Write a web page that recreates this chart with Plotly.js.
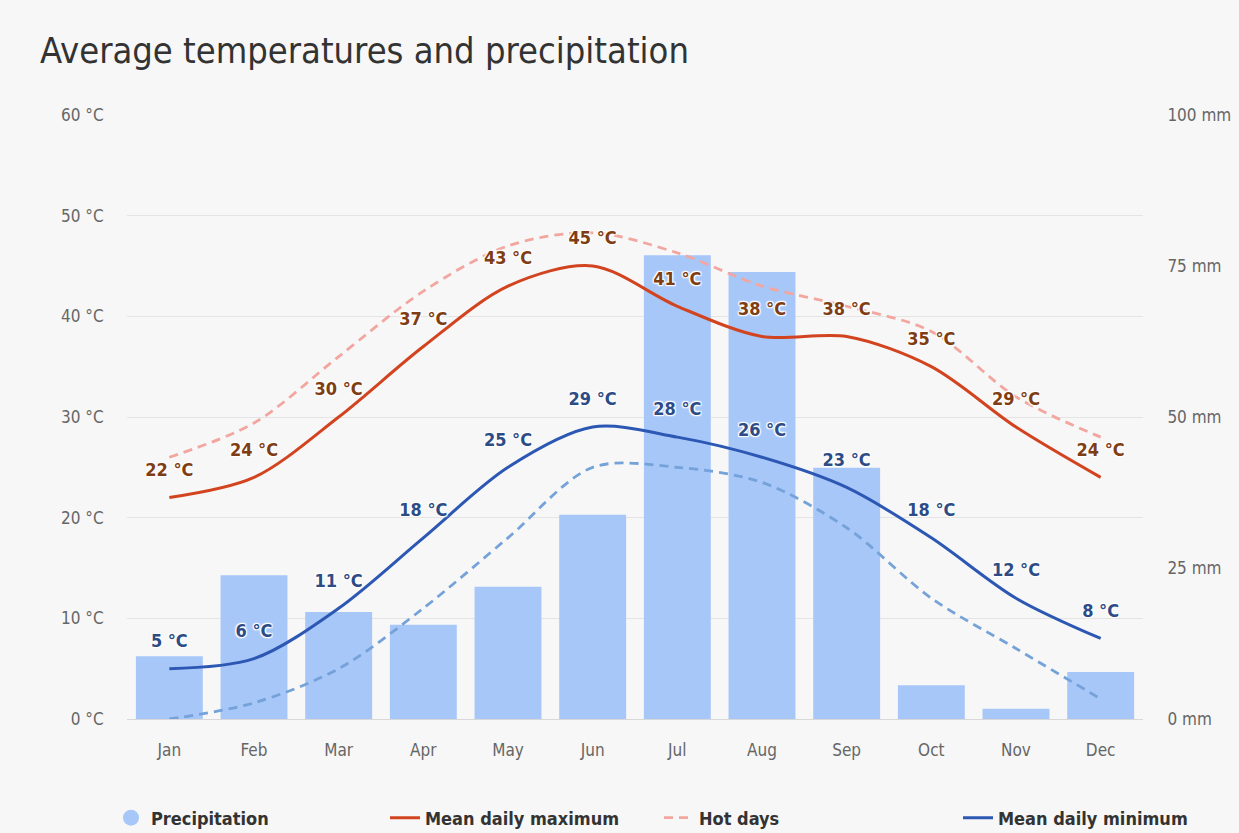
<!DOCTYPE html>
<html><head><meta charset="utf-8">
<script src="https://cdn.plot.ly/plotly-3.0.1.min.js"></script>
<style>html,body{margin:0;padding:0;background:#f7f7f7}</style>
</head><body><div id="chart" style="width:1239px;height:833px"></div>
<script>
const months = ['Jan','Feb','Mar','Apr','May','Jun','Jul','Aug','Sep','Oct','Nov','Dec'];
const precipitation = [10.4, 23.8, 17.7, 15.6, 21.9, 33.8, 76.8, 74.0, 41.6, 5.6, 1.7, 7.8];
const meanMax = [22, 24, 30, 37, 43, 45, 41, 38, 38, 35, 29, 24];
const meanMin = [5, 6, 11, 18, 25, 29, 28, 26, 23, 18, 12, 8];
const hotDays = [26, 29.4, 36, 42.5, 47, 48.3, 46.3, 43, 41, 38.5, 32, 28];
const coldNights = [0, 1.6, 5, 11, 18, 25, 25, 23.5, 19, 12, 7, 2];
const tempTicks = [0, 10, 20, 30, 40, 50, 60];
const precTicks = [0, 25, 50, 75, 100];

const condFont = 'DejaVu Sans Condensed, sans-serif';
const halo = '1px 1px 1px #fff, -1px -1px 1px #fff, 1px -1px 1px #fff, -1px 1px 1px #fff, 0 0 3px #fff';

const traces = [
  { type: 'bar', name: 'Precipitation', x: months, y: precipitation, yaxis: 'y',
    marker: { color: '#a7c7f9' }, showlegend: false, hoverinfo: 'y' },
  { type: 'scatter', mode: 'markers', name: 'Precipitation', x: [null], y: [null], yaxis: 'y2',
    marker: { color: '#a7c7f9', size: 18, symbol: 'circle' }, legend: 'legend' },
  { type: 'scatter', mode: 'lines', name: 'Hot days', x: months, y: hotDays, yaxis: 'y2',
    line: { color: '#f3a69f', width: 2.8, dash: '9px,6px', shape: 'spline', smoothing: 0.9 }, legend: 'legend3' },
  { type: 'scatter', mode: 'lines', name: 'Cold nights', x: months, y: coldNights, yaxis: 'y2',
    line: { color: '#74a2d9', width: 2.8, dash: '9px,6px', shape: 'spline', smoothing: 0.9 }, showlegend: false },
  { type: 'scatter', mode: 'lines+markers+text', name: 'Mean daily maximum', x: months, y: meanMax, yaxis: 'y2',
    text: meanMax.map(v => v + ' °C'), textposition: 'top center',
    marker: { size: 26, color: 'rgba(0,0,0,0)', line: { width: 0 } },
    textfont: { family: condFont, size: 18, color: '#7f3d14', weight: 'bold', shadow: halo },
    line: { color: '#d2441f', width: 3, shape: 'spline', smoothing: 0.9 }, legend: 'legend2' },
  { type: 'scatter', mode: 'lines+markers+text', name: 'Mean daily minimum', x: months, y: meanMin, yaxis: 'y2',
    text: meanMin.map(v => v + ' °C'), textposition: 'top center',
    marker: { size: 26, color: 'rgba(0,0,0,0)', line: { width: 0 } },
    textfont: { family: condFont, size: 18, color: '#2d4c86', weight: 'bold', shadow: halo },
    line: { color: '#2c58b4', width: 3, shape: 'spline', smoothing: 0.9 }, legend: 'legend4' }
];

function leg(x) {
  return { xref: 'container', yref: 'container', x: x, y: 1 - 818 / 833, xanchor: 'left', yanchor: 'middle',
    orientation: 'h', bgcolor: 'rgba(0,0,0,0)',
    font: { family: condFont, size: 18, color: '#333', weight: 'bold' } };
}

const layout = {
  width: 1239, height: 833,
  paper_bgcolor: '#f7f7f7', plot_bgcolor: '#f7f7f7',
  margin: { l: 127, r: 96, t: 115, b: 114 },
  title: { text: 'Average temperatures and precipitation', xref: 'container', yref: 'container',
    x: 40 / 1239, xanchor: 'left', y: 1 - 50 / 833, yanchor: 'middle',
    font: { family: condFont, size: 36, color: '#333' } },
  bargap: 0.21,
  xaxis: { type: 'category', range: [-0.5, 11.5], tickfont: { family: condFont, size: 17, color: '#666' },
    showline: true, linecolor: '#d8d8d8', linewidth: 1, ticks: 'outside', ticklen: 16, tickcolor: 'rgba(0,0,0,0)',
    showgrid: false, zeroline: false, fixedrange: true },
  yaxis: { range: [0, 100], tickvals: precTicks, ticktext: precTicks.map(v => v + ' mm'), side: 'right',
    showgrid: false, zeroline: false, ticks: 'outside', ticklen: 20, tickcolor: 'rgba(0,0,0,0)',
    tickfont: { family: condFont, size: 17, color: '#666' }, automargin: false },
  yaxis2: { range: [0, 60], tickvals: tempTicks, ticktext: tempTicks.map(v => v + ' °C'), side: 'left',
    overlaying: 'y', showgrid: true, gridcolor: '#e4e4e4', gridwidth: 1, zeroline: false,
    ticks: 'outside', ticklen: 19, tickcolor: 'rgba(0,0,0,0)',
    tickfont: { family: condFont, size: 17, color: '#666' }, automargin: false },
  legend: leg(111 / 1239),
  legend2: leg(385 / 1239),
  legend3: leg(659 / 1239),
  legend4: leg(958 / 1239),
  showlegend: true
};

Plotly.newPlot('chart', traces, layout, { displayModeBar: false, staticPlot: true });
</script>
</body></html>
